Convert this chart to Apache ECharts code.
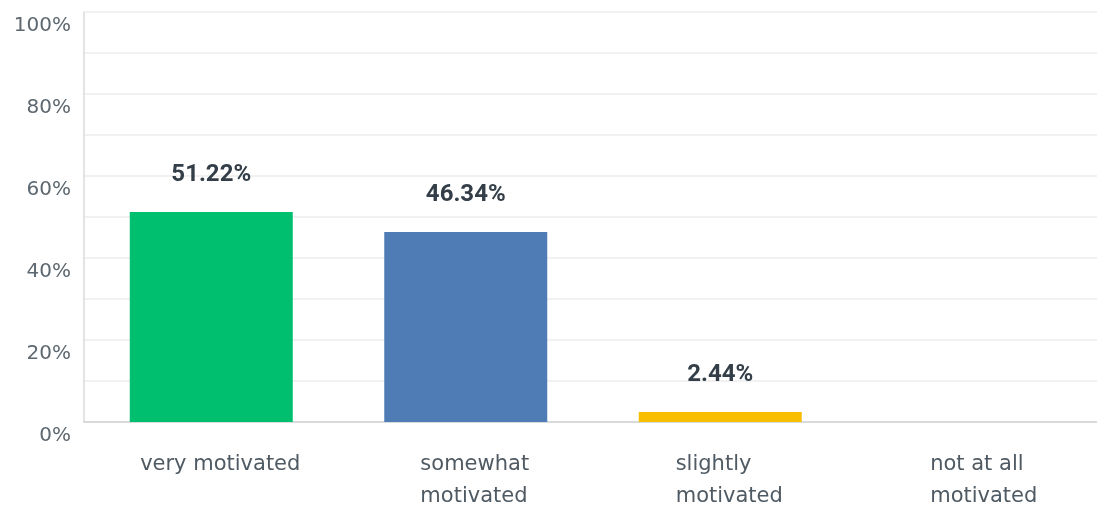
<!DOCTYPE html>
<html>
<head>
<meta charset="utf-8">
<script src="https://cdn.jsdelivr.net/npm/echarts@6/dist/echarts.min.js"></script>
<style>html,body{margin:0;padding:0;background:#fff}#c{width:1097px;height:505px}</style>
</head>
<body>
<div id="c"></div>
<script>
const categories = ['very motivated', 'somewhat\nmotivated', 'slightly\nmotivated', 'not at all\nmotivated'];
const values = [51.22, 46.34, 2.44, 0];
const barColors = ['#00bf6f', '#507cb6', '#f9be00', '#6bc8cd'];
const yTicks = [0, 20, 40, 60, 80, 100];

const chart = echarts.init(document.getElementById('c'));
chart.setOption({
  animation: false,
  grid: { left: 84, right: -5, top: 12, bottom: 83, outerBoundsMode: 'none', containLabel: false },
  xAxis: {
    type: 'category',
    data: categories,
    axisLine: { lineStyle: { color: '#cfd2d4', width: 1.5 } },
    axisTick: { show: false },
    axisLabel: {
      interval: 0,
      hideOverlap: false,
      margin: 27,
      padding: [0, 0, 0, 18],
      color: '#4f5a63',
      fontFamily: 'DejaVu Sans',
      fontSize: 21,
      lineHeight: 32,
      formatter: v => v.split('\n').map(s => '{l|' + s + '}').join('\n'),
      rich: { l: { align: 'left', fontFamily: 'DejaVu Sans', fontSize: 21, lineHeight: 32, color: '#4f5a63' } }
    }
  },
  yAxis: {
    type: 'value',
    min: 0, max: 100, interval: 10,
    axisLine: { show: true, lineStyle: { color: '#d9dbdc', width: 1.5 } },
    axisTick: { show: false },
    splitLine: { lineStyle: { color: '#ececec', width: 1.5 } },
    axisLabel: {
      margin: 13,
      verticalAlign: 'top',
      lineHeight: 27,
      color: '#5d6870',
      fontFamily: 'DejaVu Sans',
      fontSize: 20,
      formatter: v => yTicks.indexOf(v) >= 0 ? v + '%' : ''
    }
  },
  series: [{
    type: 'bar',
    barWidth: 163,
    data: values.map((v, i) => ({ value: v, itemStyle: { color: barColors[i] } })),
    label: {
      show: true,
      position: 'top',
      distance: 25,
      color: '#333e48',
      fontFamily: 'Roboto',
      fontWeight: 'bold',
      fontSize: 24,
      formatter: p => p.value > 0 ? p.value.toFixed(2) + '%' : ''
    }
  }]
});
</script>
</body>
</html>
